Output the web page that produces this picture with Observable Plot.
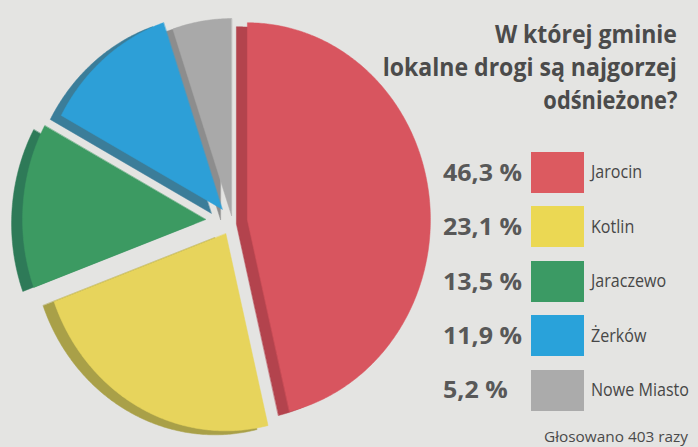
<!DOCTYPE html>
<html>
<head>
<meta charset="utf-8">
<script src="https://cdn.jsdelivr.net/npm/d3@7"></script>
<script src="https://cdn.jsdelivr.net/npm/@observablehq/plot@0.6"></script>
<style>
  html, body { margin: 0; padding: 0; background: #e4e4e2; }
  #wrap { position: relative; width: 698px; height: 447px; overflow: hidden; background: #e4e4e2; }
  #wrap svg { position: absolute; left: 0; top: 0; }
  .t { position: absolute; white-space: nowrap; line-height: 1; font-family: "Open Sans", "DejaVu Sans", sans-serif; }
  .sw { position: absolute; }
</style>
</head>
<body>
<div id="wrap"></div>
<script>
// ---- data ----
const categories = ["Jarocin", "Kotlin", "Jaraczewo", "Żerków", "Nowe Miasto"];
const values = [46.3, 23.1, 13.5, 11.9, 5.2];
const valueLabels = ["46,3 %", "23,1 %", "13,5 %", "11,9 %", "5,2 %"];
const titleLines = ["W której gminie", "lokalne drogi są najgorzej", "odśnieżone?"];
const caption = "Głosowano 403 razy";

// ---- styles ----
const faceColors = ["#d8555f", "#e7d45c", "#3c9a62", "#2d9fd7", "#a9a9a9"];
const sideColors = ["#b3434d", "#a9a048", "#2e7a58", "#3b7d99", "#8d8d8d"];
const legendColors = ["#dc5a60", "#ebd853", "#3b9a64", "#29a2da", "#ababab"];
const explode = [15, 14, 27, 16, 6];   // px, radial offset of each slice
const sideShift = { dx: -11, dy: 4 };   // px, visible depth of slices
const W = 698, H = 447;
const rx = 183, ry = 197, cx = 232, cy = 221;

// ---- pie geometry from values ----
const arcs = d3.pie().sort(null).value(d => d)(values);
function slicePts(i, sx, sy, color, layer) {
  const p = arcs[i];
  const mid = (p.startAngle + p.endAngle) / 2;
  const ox = (explode[i] * Math.sin(mid) + sx) / rx;
  const oy = (explode[i] * Math.cos(mid) - sy) / ry;
  const pts = [{ x: ox, y: oy }];
  const n = Math.max(4, Math.ceil((p.endAngle - p.startAngle) / 0.01));
  for (let k = 0; k <= n; k++) {
    const a = p.startAngle + (p.endAngle - p.startAngle) * k / n;
    pts.push({ x: ox + Math.sin(a), y: oy + Math.cos(a) });
  }
  return pts.map(d => ({ ...d, key: layer + i, fill: color }));
}
const sides = categories.flatMap((c, i) => slicePts(i, sideShift.dx, sideShift.dy, sideColors[i], "s"));
const faces = categories.flatMap((c, i) => slicePts(i, 0, 0, faceColors[i], "f"));

const chart = Plot.plot({
  width: W, height: H, margin: 0,
  style: { background: "transparent" },
  x: { domain: [-cx / rx, (W - cx) / rx], axis: null },
  y: { domain: [(cy - H) / ry, cy / ry], axis: null },
  marks: [
    Plot.line(sides, { x: "x", y: "y", z: "key", fill: "fill", stroke: "fill", strokeWidth: 0.5, curve: "linear-closed" }),
    Plot.line(faces, { x: "x", y: "y", z: "key", fill: "fill", stroke: "fill", strokeWidth: 0.5, curve: "linear-closed" })
  ]
});
const wrap = document.getElementById("wrap");
wrap.appendChild(chart);

// ---- text overlay ----
function addText(str, o) {
  const el = document.createElement("div");
  el.className = "t";
  el.textContent = str;
  el.style.fontSize = o.size + "px";
  el.style.fontWeight = o.weight || 400;
  el.style.color = o.color;
  el.style.top = (o.baseline - 0.888 * o.size) + "px";
  if (o.anchor === "end") { el.style.right = (W - o.x) + "px"; el.style.transformOrigin = "right center"; }
  else { el.style.left = o.x + "px"; el.style.transformOrigin = "left center"; }
  wrap.appendChild(el);
  return el;
}
function fitGroup(els, refIndex, targetWidth) {
  const s = targetWidth / els[refIndex].getBoundingClientRect().width;
  els.forEach(e => e.style.transform = `scaleX(${s})`);
}

// title
const titleTargets = [182, 294, 134];
const titleEls = titleLines.map((t, i) => addText(t, { x: 677, anchor: "end", baseline: 43 + i * 33, size: 25, weight: 700, color: "#4b4b4b" }));
titleEls.forEach((e, i) => fitGroup([e], 0, titleTargets[i]));

// legend
const pctEls = valueLabels.map((t, i) => addText(t, { x: 443, baseline: 182 + i * 54.2, size: 23.5, weight: 700, color: "#585858" }));
fitGroup(pctEls, 0, 79);
categories.forEach((c, i) => {
  const sw = document.createElement("div");
  sw.className = "sw";
  sw.style.left = "531px"; sw.style.top = (152 + i * 54.4) + "px";
  sw.style.width = "53px"; sw.style.height = "41px";
  sw.style.background = legendColors[i];
  wrap.appendChild(sw);
});
const labEls = categories.map((t, i) => addText(t, { x: 591, baseline: 179 + i * 54.5, size: 17.5, weight: 400, color: "#474747" }));
fitGroup(labEls, 4, 98);

// caption
const capEl = addText(caption, { x: 544, baseline: 442, size: 14, weight: 400, color: "#4a4a4a" });
fitGroup([capEl], 0, 144);
</script>
</body>
</html>
